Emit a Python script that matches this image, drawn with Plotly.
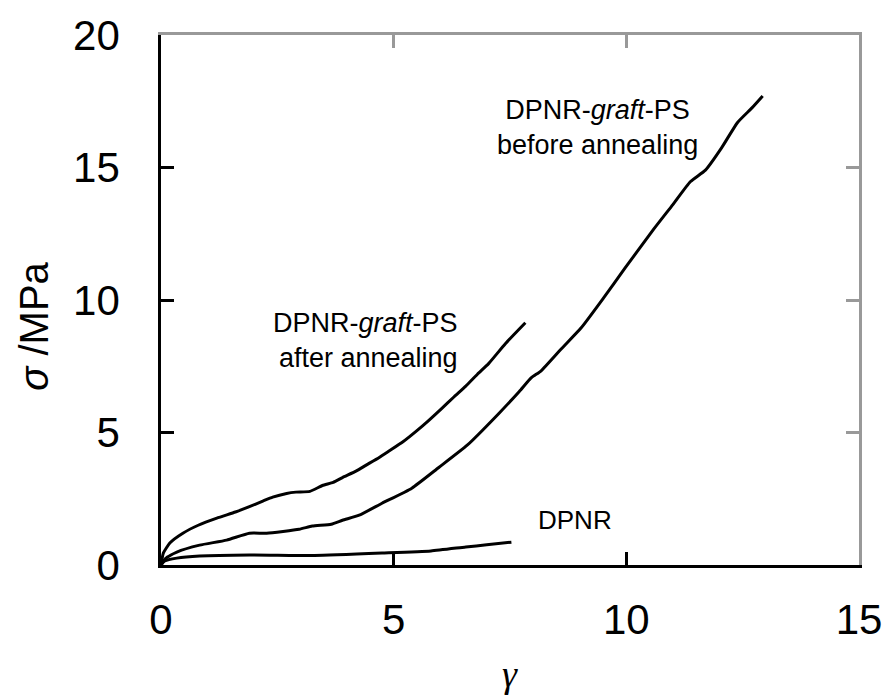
import plotly.graph_objects as go

# strain (gamma) / stress (sigma, MPa) curves
after_x = [0, 0.05, 0.19, 0.47, 0.8, 1.2, 1.6, 1.9, 2.2, 2.4, 2.7, 2.9, 3.2, 3.47, 3.7, 3.9, 4.2, 4.4, 4.69, 4.9, 5.2, 5.5, 5.75, 6.03, 6.3, 6.55, 6.8, 7.04, 7.4, 7.83]
after_y = [0, 0.45, 0.83, 1.2, 1.5, 1.77, 2.0, 2.2, 2.42, 2.56, 2.7, 2.75, 2.78, 3.0, 3.12, 3.3, 3.55, 3.76, 4.06, 4.3, 4.65, 5.07, 5.45, 5.9, 6.35, 6.75, 7.2, 7.6, 8.35, 9.14]

before_x = [0, 0.1, 0.34, 0.83, 1.41, 1.9, 2.27, 2.97, 3.25, 3.66, 3.9, 4.26, 4.75, 5.39, 5.97, 6.58, 7.25, 7.7, 7.96, 8.17, 8.6, 9.03, 9.5, 9.97, 10.6, 11.0, 11.38, 11.7, 12.05, 12.39, 12.7, 12.93]
before_y = [0, 0.25, 0.49, 0.75, 0.94, 1.2, 1.2, 1.35, 1.47, 1.54, 1.69, 1.88, 2.33, 2.9, 3.68, 4.52, 5.7, 6.55, 7.07, 7.33, 8.15, 8.95, 10.05, 11.2, 12.7, 13.6, 14.47, 14.9, 15.75, 16.7, 17.25, 17.7]

dpnr_x = [0, 0.08, 0.34, 0.83, 1.9, 3.3, 4.75, 5.8, 6.55, 7.0, 7.53]
dpnr_y = [0, 0.15, 0.26, 0.34, 0.38, 0.36, 0.45, 0.53, 0.68, 0.76, 0.86]

x_ticks = [0, 5, 10, 15]
y_ticks = [0, 5, 10, 15, 20]

FONT = "Liberation Sans, Arial, sans-serif"
SERIF = "Liberation Serif, Times New Roman, serif"

fig = go.Figure()
for xs, ys in [(after_x, after_y), (before_x, before_y), (dpnr_x, dpnr_y)]:
    fig.add_trace(go.Scatter(x=xs, y=ys, mode="lines",
                             line=dict(color="black", width=3, shape="spline", smoothing=0.5),
                             showlegend=False, hoverinfo="skip"))

# invisible trace that activates the mirrored (gray) top/right axes
fig.add_trace(go.Scatter(x=[0], y=[0], xaxis="x2", yaxis="y2", mode="markers",
                         marker=dict(opacity=0), showlegend=False, hoverinfo="skip"))

axis_common = dict(showgrid=False, zeroline=False, ticks="inside", ticklen=13, tickwidth=2.5)

fig.update_layout(
    width=894, height=695,
    margin=dict(l=161, r=32, t=33, b=130),
    paper_bgcolor="white", plot_bgcolor="white",
    font=dict(family=FONT, color="black"),
    xaxis=dict(range=[0, 15], tickvals=x_ticks, showline=True, linecolor="black", linewidth=2.6,
               tickcolor="black", tickfont=dict(size=42, family=FONT), ticklabelstandoff=16,
               **axis_common),
    yaxis=dict(range=[0, 20], tickvals=y_ticks, showline=True, linecolor="black", linewidth=2.6,
               tickcolor="black", tickfont=dict(size=42, family=FONT), ticklabelstandoff=30,
               **axis_common),
    xaxis2=dict(range=[0, 15], tickvals=x_ticks, overlaying="x", side="top", showline=True,
                linecolor="#999999", linewidth=2.6, tickcolor="#999999", showticklabels=False,
                **axis_common),
    yaxis2=dict(range=[0, 20], tickvals=y_ticks, overlaying="y", side="right", showline=True,
                linecolor="#999999", linewidth=2.6, tickcolor="#999999", showticklabels=False,
                **axis_common),
)

annotations = [
    dict(x=6.42, y=8.46, text="DPNR-<i>graft</i>-PS<br>after annealing", align="right",
         xanchor="right", yanchor="middle", font=dict(size=27, family=FONT)),
    dict(x=9.37, y=16.52, text="DPNR-<i>graft</i>-PS<br>before annealing", align="center",
         xanchor="center", yanchor="middle", font=dict(size=27, family=FONT)),
    dict(x=8.9, y=1.7, text="DPNR", xanchor="center", yanchor="middle",
         font=dict(size=26, family=FONT)),
]
for a in annotations:
    fig.add_annotation(xref="x", yref="y", showarrow=False, **a)

# axis titles
fig.add_annotation(xref="paper", yref="paper", x=0.5, y=-0.206, showarrow=False,
                   text="<i>γ</i>", font=dict(size=38, family=SERIF), yanchor="middle")
fig.add_annotation(xref="paper", yref="paper", x=-0.183, y=0.45, showarrow=False, textangle=-90,
                   text="<i>σ</i> /MPa", font=dict(size=40, family=FONT), xanchor="center", yanchor="middle")

fig.write_html("out.html")
